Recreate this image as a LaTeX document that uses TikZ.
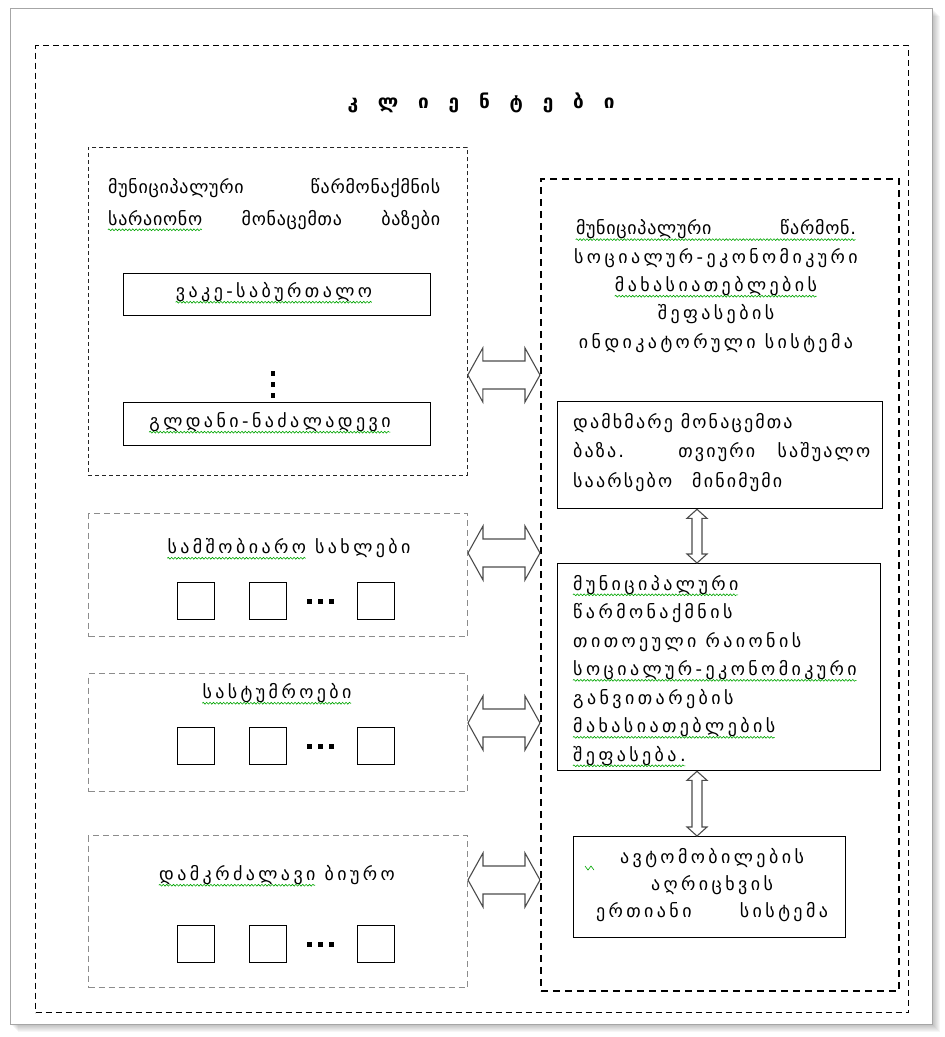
\documentclass[tikz,border=0pt]{standalone}
\usepackage{fontspec}
\newfontfamily\geo{DejaVu Sans}[LetterSpace=19]
\newfontfamily\geom{DejaVu Sans}[LetterSpace=12]
\newfontfamily\geon{DejaVu Sans}[LetterSpace=4]
\usetikzlibrary{calc,decorations.pathmorphing}
\newsavebox\wvbox
\newlength\wvlen
\newcommand\wv[1]{\sbox\wvbox{#1}\setlength\wvlen{\wd\wvbox}\usebox\wvbox\llap{\smash{\raisebox{-6pt}{\tikz\draw[green!65!black,line width=0.6pt,decorate,decoration={snake,amplitude=0.9pt,segment length=3.4pt}] (0pt,0pt)--(\wvlen,0pt);}}}}
\newcommand\hdarr[2]{\draw[blockarrow] let \p1=(#1), \p2=(#2) in
  (\x1,\y1) -- (\x1+15pt,\y1+27pt) -- (\x1+15pt,\y1+14pt) -- (\x2-15pt,\y2+14pt) -- (\x2-15pt,\y2+27pt) -- (\x2,\y2)
  -- (\x2-15pt,\y2-27pt) -- (\x2-15pt,\y2-14pt) -- (\x1+15pt,\y1-14pt) -- (\x1+15pt,\y1-27pt) -- cycle;}
\newcommand\vdarr[2]{\draw[blockarrow] let \p1=(#1), \p2=(#2) in
  (\x1,\y1) -- (\x1+10pt,\y1-9pt) -- (\x1+5pt,\y1-9pt) -- (\x2+5pt,\y2+9pt) -- (\x2+10pt,\y2+9pt) -- (\x2,\y2)
  -- (\x2-10pt,\y2+9pt) -- (\x2-5pt,\y2+9pt) -- (\x1-5pt,\y1-9pt) -- (\x1-10pt,\y1-9pt) -- cycle;}
\tikzset{
  outerdash/.style={draw, line width=1.3pt, dash pattern=on 6pt off 4pt},
  ldash/.style={draw=black!85, line width=0.8pt, dash pattern=on 4pt off 3pt},
  gdash/.style={draw=black!45, line width=1pt, dash pattern=on 6pt off 4pt},
  rdash/.style={draw, line width=1.8pt, dash pattern=on 7pt off 5pt},
  sbox/.style={draw, line width=1.3pt},
  area/.style={inner sep=0pt, anchor=north west},
  sq/.style={draw, line width=1.3pt, minimum size=37pt, inner sep=0pt},
  pt/.style={fill, minimum width=5pt, minimum height=5pt, inner sep=0pt},
  blockarrow/.style={draw=black!70, line width=1.1pt, fill=white, line join=miter},
  gt/.style={inner sep=0pt, font=\geo\fontsize{18}{#1}\selectfont},
  gt/.default=28,
}
\begin{document}
\begin{tikzpicture}[x=1pt,y=-1pt]
\useasboundingbox (0,0) rectangle (945,1037);
% page frame with shadow
\foreach \i in {1,...,8}{\fill[black,opacity=0.035] (10+\i,8+\i) rectangle (932+\i,1024+\i);}
\draw[fill=white,draw=black!35,line width=0.6pt] (10,8) rectangle (932,1024);
% containers
\node[area,outerdash,minimum width=873,minimum height=967] (F) at (35,45) {};
\node[area,ldash,minimum width=379,minimum height=328] (L1) at (88,147) {};
\node[area,gdash,minimum width=379,minimum height=123] (L2) at (88,513) {};
\node[area,gdash,minimum width=379,minimum height=118] (L3) at (88,673) {};
\node[area,gdash,minimum width=379,minimum height=152] (L4) at (88,835) {};
\node[area,rdash,minimum width=358,minimum height=812] (R) at (540,178) {};
\node[area,sbox,minimum width=307,minimum height=42] (V) at (123,273) {};
\node[area,sbox,minimum width=307,minimum height=43] (G) at (123,402) {};
\node[area,sbox,minimum width=325,minimum height=107] (R1) at (557,401) {};
\node[area,sbox,minimum width=323,minimum height=207] (R2) at (557,563) {};
\node[area,sbox,minimum width=272,minimum height=101] (R3) at (573,836) {};
% title
\node[inner sep=0pt,font=\geon\bfseries\fontsize{19}{22}\selectfont] (T) at (481,103) {\makebox[267pt][s]{კ ლ ი ე ნ ტ ე ბ ი}};
% left texts
\node[gt=32,font=\geon\fontsize{18}{32}\selectfont,anchor=base west,align=left] (L1t) at (108,225) {\makebox[332pt][s]{მუნიციპალური წარმონაქმნის}\\\makebox[332pt][s]{\wv{სარაიონო} მონაცემთა ბაზები}};
\node[gt] (Vt) at (274,292) {\wv{ვაკე-საბურთალო}};
\node[gt] (Gt) at (270,422) {\wv{გლდანი-ნაძალადევი}};
\node[gt] (L2t) at (289,548) {\wv{სამშობიარო} სახლები};
\node[gt] (L3t) at (277,693) {\wv{სასტუმროები}};
\node[gt] (L4t) at (277,875) {\wv{დამკრძალავი} ბიურო};
% vertical dots
\node[pt,minimum width=4pt] (d1) at (273,373) {};
\node[pt,minimum width=4pt] (d2) at (273,384) {};
\node[pt,minimum width=4pt] (d3) at (273,395) {};
% squares
\foreach \g/\y in {2/601,3/746,4/944}{
  \node[sq] (s\g a) at (196,\y) {};
  \node[sq] (s\g b) at (268,\y) {};
  \node[sq] (s\g c) at (376,\y) {};
  \node[pt] (p\g a) at (309,\y) {};
  \node[pt] (p\g b) at (320,\y) {};
  \node[pt] (p\g c) at (331,\y) {};
}
% right texts
\node[gt=28.3,anchor=base,align=center] (Rt) at (716,348) {\wv{\makebox[280pt][s]{\geon მუნიციპალური წარმონ.}}\\სოციალურ-ეკონომიკური\\\wv{მახასიათებლების}\\შეფასების\\ინდიკატორული სისტემა};
\node[gt=29.5,font=\geom\fontsize{18}{29.5}\selectfont,anchor=base west,align=left] (R1t) at (573,487) {დამხმარე მონაცემთა\\\makebox[297pt][s]{ბაზა. თვიური საშუალო}\\საარსებო\hspace{12pt} მინიმუმი};
\node[gt=28.5,anchor=base west,align=left] (R2t) at (573,761) {\wv{მუნიციპალური}\\წარმონაქმნის\\თითოეული რაიონის\\\wv{სოციალურ-ეკონომიკური}\\განვითარების\\\wv{მახასიათებლების}\\\wv{შეფასება.}};
\node[gt=27,anchor=base,align=center] (R3t) at (712,917) {ავტომობილების\\აღრიცხვის\\\makebox[232pt][s]{ერთიანი სისტემა}};
\draw[green!65!black,line width=0.6pt] (585,866) -- (588,870) -- (591,866) -- (594,870);
% arrows
\coordinate (y1) at (0,375);
\coordinate (y2) at (0,553);
\coordinate (y3) at (0,723);
\coordinate (y4) at (0,880);
\coordinate (xa) at (697,0);
\hdarr{L1.east |- y1}{R.west |- y1}
\hdarr{L2.east |- y2}{R.west |- y2}
\hdarr{L3.east |- y3}{R.west |- y3}
\hdarr{L4.east |- y4}{R.west |- y4}
\vdarr{R1.south -| xa}{R2.north -| xa}
\vdarr{R2.south -| xa}{R3.north -| xa}
\end{tikzpicture}
\end{document}
